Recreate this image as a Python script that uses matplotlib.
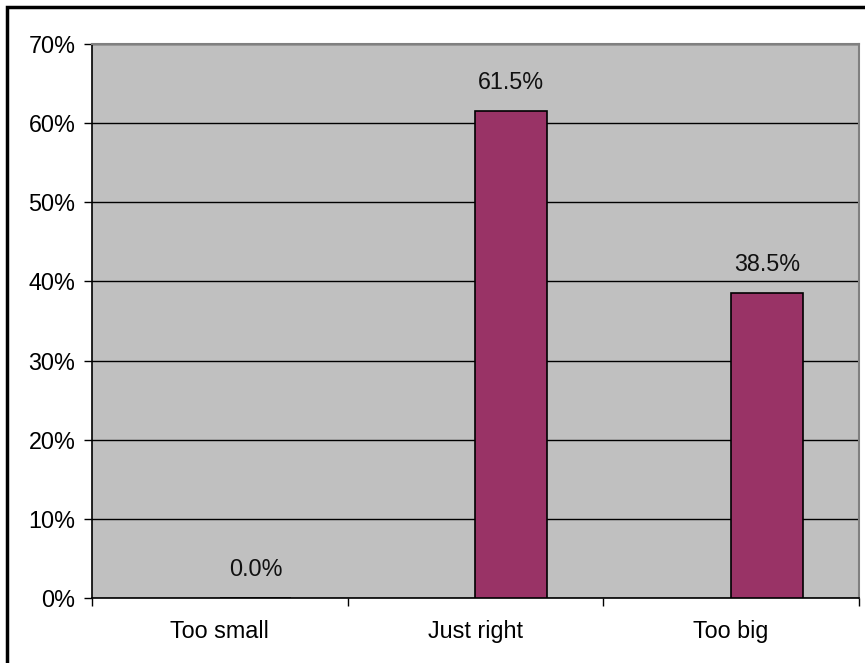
import matplotlib.pyplot as plt
from matplotlib.patches import Rectangle
from matplotlib.ticker import MultipleLocator, FuncFormatter

categories = ['Too small', 'Just right', 'Too big']
values = [0.0, 61.5, 38.5]

plt.rcParams['font.family'] = ['Liberation Sans', 'DejaVu Sans']
fs = 16.8

W, H = 865, 663
fig = plt.figure(figsize=(W / 100, H / 100), dpi=100)
fig.patches.append(Rectangle((7 / W, -0.05), 1.1, 1.05 - 7 / H, transform=fig.transFigure,
                             fill=False, edgecolor='black', linewidth=2.5))

ax = fig.add_axes([92 / W, (H - 598) / H, (859 - 92) / W, (598 - 44) / H])
ax.set_facecolor('#c0c0c0')

x = list(range(len(categories)))
ax.bar(x, values, width=0.28, align='edge', color='#993366', edgecolor='black', linewidth=1.2, zorder=3)
for xi, v in zip(x, values):
    ax.text(xi + 0.14, v + 2.2, f'{v:.1f}%', ha='center', va='bottom', fontsize=fs, color='#111111')

ax.set_xlim(-0.5, len(categories) - 0.5)
ax.set_ylim(0, 70)
ax.yaxis.set_major_locator(MultipleLocator(10))
ax.yaxis.set_major_formatter(FuncFormatter(lambda v, p: f'{v:.0f}%'))
ax.grid(axis='y', color='black', linewidth=1.0, zorder=1)
ax.set_axisbelow(True)

ax.set_xticks([i - 0.5 for i in range(len(categories) + 1)])
ax.set_xticklabels([])
ax.set_xticks(x, minor=True)
ax.set_xticklabels(categories, minor=True, fontsize=fs)
ax.tick_params(axis='x', which='minor', length=0, pad=16)
ax.tick_params(axis='x', which='major', length=6, direction='out', width=1)
ax.tick_params(axis='y', length=6, direction='out', width=1, labelsize=fs, pad=6)

for s in ['top', 'right']:
    ax.spines[s].set_color('#808080')
    ax.spines[s].set_linewidth(1.5)
for s in ['left', 'bottom']:
    ax.spines[s].set_color('black')
    ax.spines[s].set_linewidth(1.2)

fig.savefig('out.png', dpi=100)
